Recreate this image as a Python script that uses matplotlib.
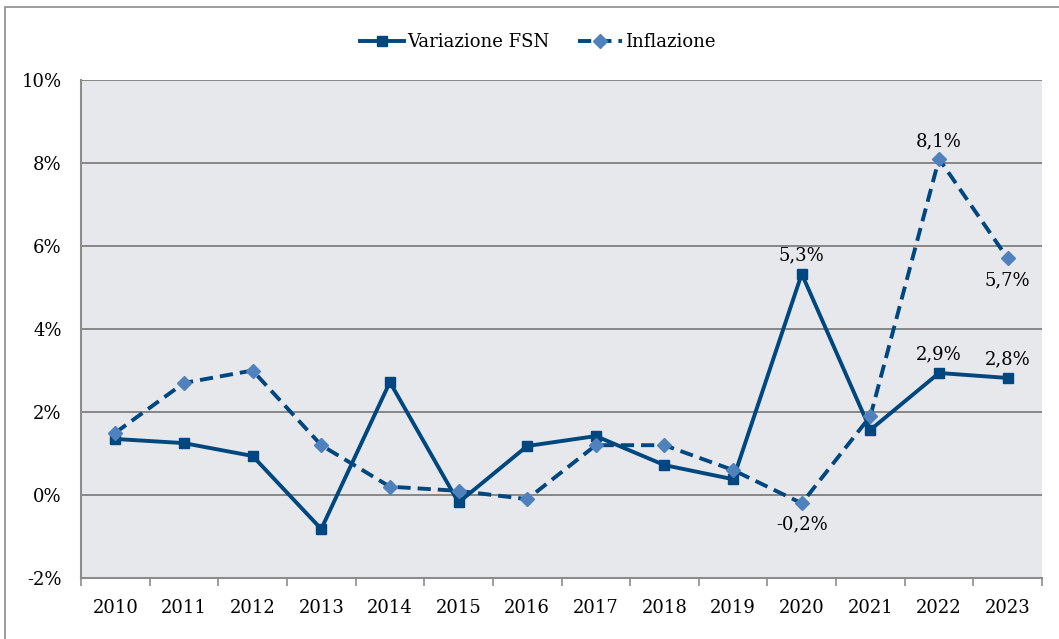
import numpy as np
import matplotlib.pyplot as plt
from matplotlib.patches import Rectangle

years = [str(y) for y in range(2010, 2024)]
fsn = [1.35, 1.25, 0.94, -0.82, 2.72, -0.18, 1.18, 1.42, 0.72, 0.38, 5.33, 1.57, 2.94, 2.82]
inflazione = [1.5, 2.7, 3.0, 1.2, 0.2, 0.1, -0.1, 1.2, 1.2, 0.6, -0.2, 1.9, 8.1, 5.7]

# data labels shown on the chart
fsn_labels = {10: "5,3%", 12: "2,9%", 13: "2,8%"}
infl_labels = {10: "-0,2%", 12: "8,1%", 13: "5,7%"}

plt.rcParams["font.family"] = ["DejaVu Serif"]
FS = 13

W, H = 1059, 639
fig = plt.figure(figsize=(W / 100, H / 100), dpi=100)
ax = fig.add_axes([81 / W, 1 - 578 / H, (1042 - 81) / W, (578 - 80) / H])

# outer chart frame
fig.patches.append(Rectangle((5 / W, -0.1), 1.2, 1 - 7 / H + 0.1, transform=fig.transFigure,
                             fill=False, edgecolor="#8c8c8c", lw=1.2))

dark = "#00477F"
light = "#4F81BD"
x = np.arange(len(years))

ax.set_facecolor("#E7E8EC")
ax.plot(x, fsn, color=dark, lw=2.8, marker="s", ms=7, mfc=dark, mec=dark,
        label="Variazione FSN", zorder=3)
ax.plot(x, inflazione, color=dark, lw=2.8, ls=(0, (3.4, 1.8)), marker="D", ms=7,
        mfc=light, mec=light, label="Inflazione", zorder=4)

for i, t in fsn_labels.items():
    ax.annotate(t, (x[i], fsn[i]), xytext=(0, 7), textcoords="offset points",
                ha="center", va="bottom", fontsize=FS)
for i, t in infl_labels.items():
    if t == "8,1%":
        ax.annotate(t, (x[i], inflazione[i]), xytext=(0, 6), textcoords="offset points",
                    ha="center", va="bottom", fontsize=FS)
    else:
        ax.annotate(t, (x[i], inflazione[i]), xytext=(0, -9), textcoords="offset points",
                    ha="center", va="top", fontsize=FS)

ax.set_xlim(-0.5, len(years) - 0.5)
ax.set_ylim(-2, 10)
ax.set_yticks(np.arange(-2, 11, 2))
ax.set_yticklabels([f"{v}%" for v in range(-2, 11, 2)], fontsize=FS)
ax.yaxis.grid(True, color="#7f7f7f", lw=1.3)
ax.set_axisbelow(True)
ax.tick_params(axis="y", length=0, pad=14)

ax.set_xticks(x)
ax.set_xticklabels(years, fontsize=FS)
ax.set_xticks(np.arange(-0.5, len(years), 1), minor=True)
ax.tick_params(axis="x", which="major", length=0, pad=15)
ax.tick_params(axis="x", which="minor", length=6, color="#8c8c8c", width=1.2)

for s in ["top", "right"]:
    ax.spines[s].set_visible(False)
ax.spines["left"].set_color("#8c8c8c")
ax.spines["left"].set_linewidth(1.5)
ax.spines["bottom"].set_color("#8c8c8c")
ax.spines["bottom"].set_linewidth(1.5)

fig.legend(loc="center", bbox_to_anchor=(538 / W, 1 - 42 / H), ncol=2, frameon=False,
           fontsize=FS, handlelength=2.4, columnspacing=1.6, handletextpad=0.2)

fig.savefig("out.png", dpi=100)
